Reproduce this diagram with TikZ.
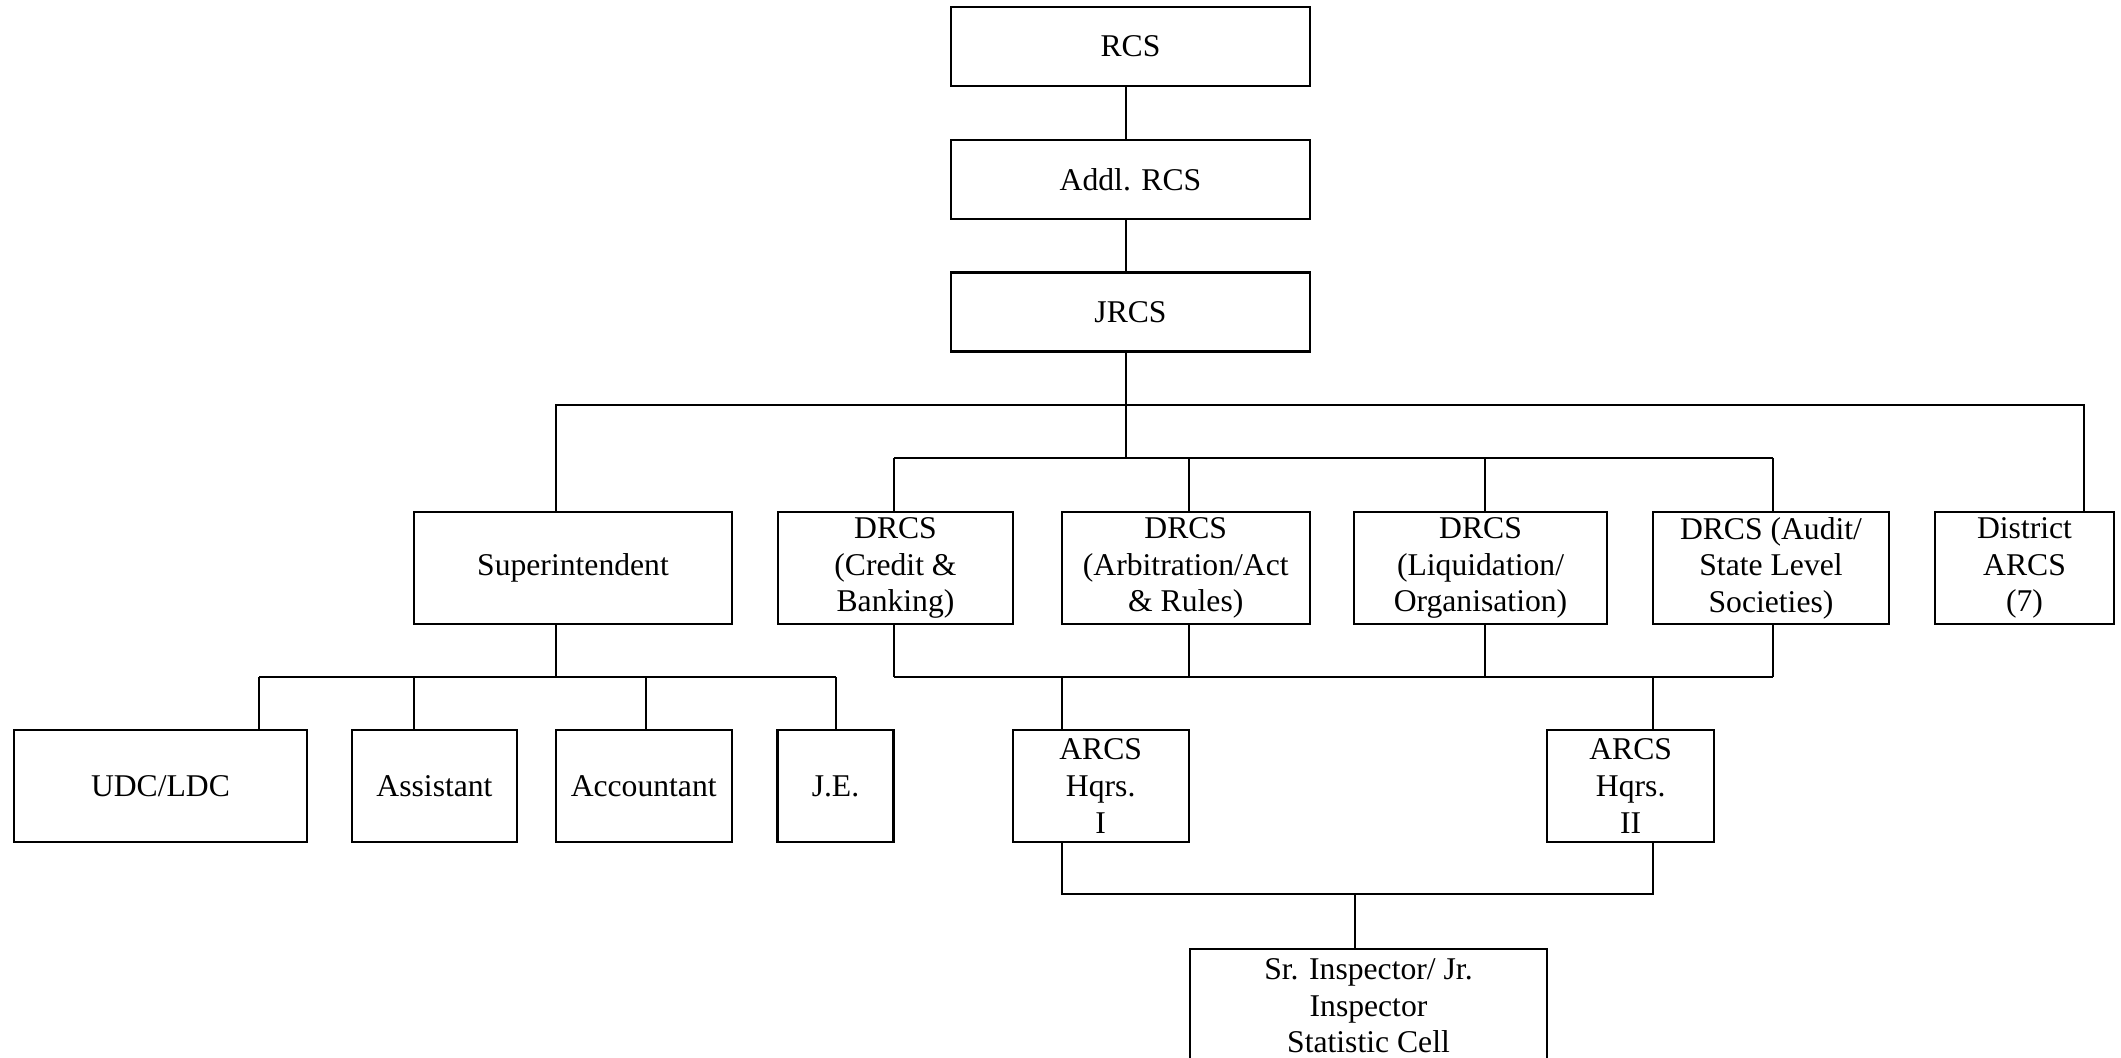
\documentclass[tikz,border=0pt]{standalone}
\usepackage{fontspec}
\setmainfont{Liberation Serif}
\usepackage{tikz}
\usetikzlibrary{positioning,calc}
\tikzset{
  every node/.style={font=\fontsize{9}{10.4}\selectfont},
  % --- nodes
  post/.style  = {draw=black, line width=0.6pt, fill=white, align=center, inner sep=0pt},
  head/.style  = {post, minimum width=3.59cm, minimum height=0.79cm},
  rowb/.style  = {post, minimum height=1.12cm},
  % --- edges
  ln/.style    = {draw=black, line width=0.45pt},
}
\begin{document}
\begin{tikzpicture}[x=0.01cm,y=-0.01cm]
  \useasboundingbox (0,0) rectangle (2121,1058);
  % --- top chain
  \node[head] (rcs)  at (1130.5,46.5)  {RCS};
  \node[head] (addl) at (1130.5,179.5) {Addl. RCS};
  \node[head] (jrcs) at (1130.5,312)   {JRCS};
  % --- second row
  \node[rowb, minimum width=3.18cm]  (sup)  at (573,568)     {Superintendent};
  \node[rowb, minimum width=2.35cm]  (crd)  at (895.5,568)   {DRCS\\(Credit \&\\Banking)};
  \node[rowb, minimum width=2.475cm] (arb)  at (1185.75,568) {DRCS\\(Arbitration/Act\\\& Rules)};
  \node[rowb, minimum width=2.52cm]  (liq)  at (1480.5,568)  {DRCS\\(Liquidation/\\Organisation)};
  \node[rowb, minimum width=2.36cm]  (aud)  at (1771,568)    {DRCS (Audit/\\State Level\\Societies)};
  \node[rowb, minimum width=1.79cm]  (dist) at (2024.5,568)  {District\\ARCS\\(7)};
  % --- third row
  \node[rowb, minimum width=2.93cm] (udc)   at (160.5,786)  {UDC/LDC};
  \node[rowb, minimum width=1.65cm] (asst)  at (434.5,786)  {Assistant};
  \node[rowb, minimum width=1.76cm] (acct)  at (643.7,786)  {Accountant};
  \node[rowb, minimum width=1.16cm] (je)    at (835.5,786)  {J.E.};
  \node[rowb, minimum width=1.76cm] (arcsa) at (1100.7,786) {ARCS\\Hqrs.\\I};
  \node[rowb, minimum width=1.67cm] (arcsb) at (1630.7,786) {ARCS\\Hqrs.\\II};
  % --- bottom
  \node[post, minimum width=3.57cm, minimum height=1.14cm] (insp) at (1368.5,1006)
       {Sr. Inspector/ Jr.\\Inspector\\Statistic Cell};

  % spine
  \coordinate (sp) at (1126,405);
  \coordinate (sb) at (1126,458);
  \draw[ln] (rcs.south -| sp) -- (addl.north -| sp);
  \draw[ln] (addl.south -| sp) -- (jrcs.north -| sp);
  \draw[ln] (jrcs.south -| sp) -- (sb);
  % outer bar
  \coordinate (a1) at (556,405);
  \coordinate (a2) at (2084,405);
  \draw[ln] (a1 |- sup.north) -- (a1) -- (a2) -- (a2 |- dist.north);
  % DRCS bar (above)
  \foreach \n/\x in {crd/894,arb/1189,liq/1485,aud/1773}{
    \coordinate (t\n) at (\x,458);
    \coordinate (u\n) at (\x,677);
    \draw[ln] (t\n) -- (t\n |- \n.north);
    \draw[ln] (u\n |- \n.south) -- (u\n);
  }
  \draw[ln] (tcrd) -- (taud);
  \draw[ln] (ucrd) -- (uaud);
  % superintendent staff
  \coordinate (sc) at (556,677);
  \draw[ln] (sc |- sup.south) -- (sc);
  \foreach \n/\x in {udc/259,asst/414,acct/646,je/836}{
    \coordinate (c\n) at (\x,677);
    \draw[ln] (c\n) -- (c\n |- \n.north);
  }
  \draw[ln] (cudc) -- (cje);
  % ARCS Hqrs.
  \coordinate (da) at (1062,677);
  \coordinate (db) at (1653,677);
  \draw[ln] (da) -- (da |- arcsa.north);
  \draw[ln] (db) -- (db |- arcsb.north);
  \coordinate (ea) at (1062,894);
  \coordinate (eb) at (1653,894);
  \coordinate (ec) at (1355,894);
  \draw[ln] (ea |- arcsa.south) -- (ea) -- (eb) -- (eb |- arcsb.south);
  \draw[ln] (ec) -- (ec |- insp.north);
\end{tikzpicture}
\end{document}
